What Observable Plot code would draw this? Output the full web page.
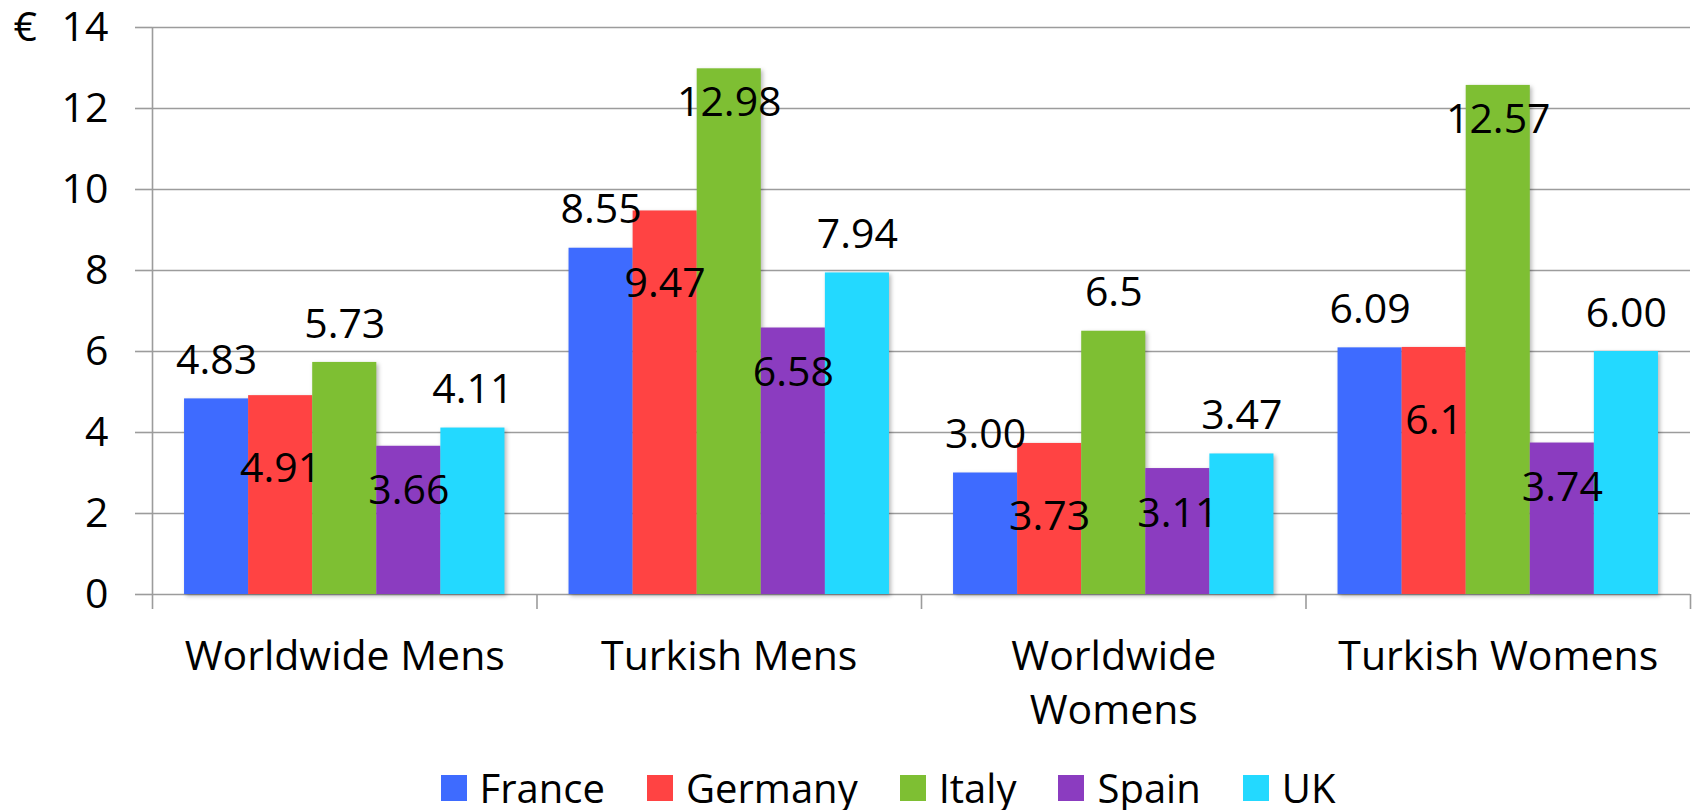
<!DOCTYPE html>
<html>
<head>
<meta charset="utf-8">
<script src="https://cdn.jsdelivr.net/npm/d3@7"></script>
<script src="https://cdn.jsdelivr.net/npm/@observablehq/plot@0.6"></script>
<style>
  html, body { margin: 0; padding: 0; background: #fff; }
  body { width: 1694px; height: 810px; overflow: hidden; font-family: "Open Sans", sans-serif; }
  #chart { padding-top: 8px; }
  #chart svg { display: block; }
  #chart svg g[aria-label="rect"] { filter: drop-shadow(2px 2px 2px rgba(0,0,0,0.28)); }
  #legend { display: flex; justify-content: center; gap: 42px; font-size: 40px; line-height: 40px; color: #000;
            margin-top: 23px; transform: translateX(41px); }
  #legend .item { display: flex; align-items: center; }
  #legend .sw { width: 26px; height: 26px; margin-right: 13px; display: inline-block; }
</style>
</head>
<body>
<div id="chart"></div>
<div id="legend"></div>
<script>
// ---- data ----
const categories = ["Worldwide Mens", "Turkish Mens", "Worldwide Womens", "Turkish Womens"];
const series = ["France", "Germany", "Italy", "Spain", "UK"];
const france  = [4.83, 8.55, 3.00, 6.09];
const germany = [4.91, 9.47, 3.73, 6.1];
const italy   = [5.73, 12.98, 6.5, 12.57];
const spain   = [3.66, 6.58, 3.11, 3.74];
const uk      = [4.11, 7.94, 3.47, 6.00];
const franceLabels  = ["4.83", "8.55", "3.00", "6.09"];
const germanyLabels = ["4.91", "9.47", "3.73", "6.1"];
const italyLabels   = ["5.73", "12.98", "6.5", "12.57"];
const spainLabels   = ["3.66", "6.58", "3.11", "3.74"];
const ukLabels      = ["4.11", "7.94", "3.47", "6.00"];
const yTicks = [0, 2, 4, 6, 8, 10, 12, 14];

// ---- styles ----
const colors = ["#3e6bff", "#ff4343", "#7ebf33", "#8b3cc0", "#23d9ff"];
const gridColor = "#9c9c9c";
// label placement per series: above bar (negative) or inside bar (positive), in px
const labelDy = {France: -38, Germany: 73, Italy: -38, Spain: 45, UK: -38};
const insideTopDy = 34;   // labels of bars reaching the top of the scale sit inside
const PAD = 0.5, SLOTS = series.length + 2 * PAD;

const values = [france, germany, italy, spain, uk];
const labels = [franceLabels, germanyLabels, italyLabels, spainLabels, ukLabels];
const rows = [];
series.forEach((s, si) => categories.forEach((c, ci) => {
  rows.push({series: s, si, category: c, ci, value: values[si][ci], label: labels[si][ci]});
}));
const x1 = d => d.ci + (PAD + d.si) / SLOTS;
const x2 = d => d.ci + (PAD + d.si + 1) / SLOTS;
const xm = d => d.ci + (PAD + d.si + 0.5) / SLOTS;

const labelMarks = [];
series.forEach(s => {
  labelMarks.push(Plot.text(rows.filter(d => d.series === s && d.value <= 12), {
    x: xm, y: "value", text: "label", dy: labelDy[s], fill: "#000"
  }));
});
labelMarks.push(Plot.text(rows.filter(d => d.value > 12), {
  x: xm, y: "value", text: "label", dy: insideTopDy, fill: "#000"
}));

const chart = Plot.plot({
  width: 1694,
  height: 737,
  marginLeft: 152,
  marginRight: 4,
  marginTop: 19,
  marginBottom: 151,
  style: {fontFamily: "'Open Sans', sans-serif", fontSize: "41px", color: "#000", background: "#fff", overflow: "visible"},
  x: {type: "linear", domain: [0, categories.length]},
  y: {domain: [0, 14]},
  color: {domain: series, range: colors},
  marks: [
    Plot.ruleY(yTicks, {stroke: gridColor, strokeWidth: 1.6}),
    Plot.ruleX([0], {stroke: gridColor, strokeWidth: 1.6}),
    Plot.axisY({ticks: yTicks, tickSize: 17, tickPadding: 27, stroke: gridColor, strokeWidth: 1.6,
                tickFormat: d => d === 14 ? "€\u2002\u200a14" : String(d), label: null}),
    Plot.axisX({ticks: d3.range(0, categories.length + 1), tickSize: 15, tickFormat: () => "",
                stroke: gridColor, strokeWidth: 1.6, label: null}),
    Plot.axisX({ticks: categories.map((c, i) => i + 0.5), tickSize: 0, tickPadding: 36,
                tickFormat: v => categories[Math.floor(v)], lineWidth: 8.2, lineHeight: 1.34, label: null}),
    Plot.rect(rows, {x1, x2, y1: 0, y2: "value", fill: "series"}),
    ...labelMarks
  ]
});
document.getElementById("chart").appendChild(chart);

const legend = document.getElementById("legend");
series.forEach((s, i) => {
  const item = document.createElement("span");
  item.className = "item";
  const sw = document.createElement("span");
  sw.className = "sw";
  sw.style.background = colors[i];
  item.appendChild(sw);
  item.appendChild(document.createTextNode(s));
  legend.appendChild(item);
});
</script>
</body>
</html>
